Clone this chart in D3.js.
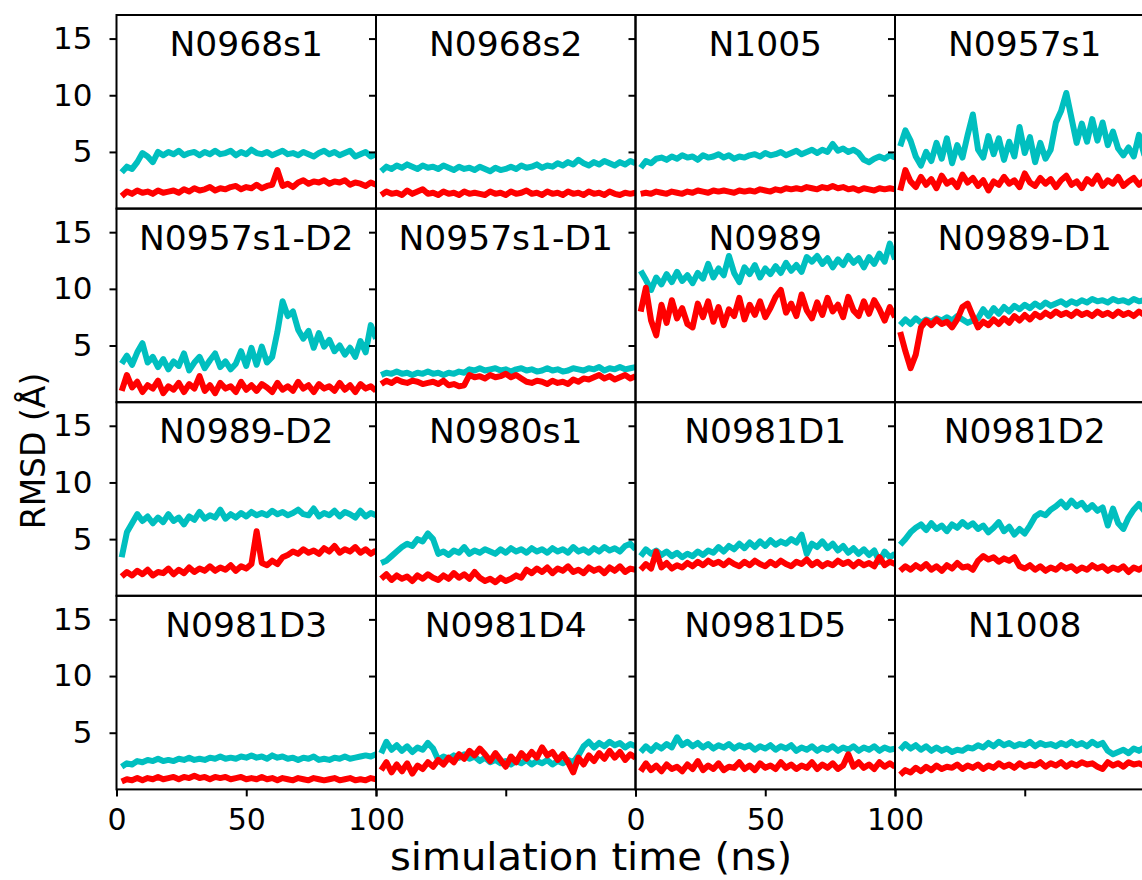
<!DOCTYPE html>
<html>
<head>
<meta charset="utf-8">
<script src="https://cdn.jsdelivr.net/npm/d3@7"></script>
<style>
  body { margin: 0; background: #fff; }
  svg { display: block; font-family: "DejaVu Sans", sans-serif; }
</style>
</head>
<body>
<svg id="chart"></svg>
<script>
const titles = ['N0968s1', 'N0968s2', 'N1005', 'N0957s1',
  'N0957s1-D2', 'N0957s1-D1', 'N0989', 'N0989-D1',
  'N0989-D2', 'N0980s1', 'N0981D1', 'N0981D2',
  'N0981D3', 'N0981D4', 'N0981D5', 'N1008']

// simulation time (ns)
const times = [2,4,6,8,10,12,14,16,18,20,22,24,26,28,30,32,34,36,38,40,
  42,44,46,48,50,52,54,56,58,60,62,64,66,68,70,72,74,76,78,80,
  82,84,86,88,90,92,94,96,98,100]

const yTicks = [5, 10, 15]
const xTicks = [0, 50, 100]

// cyan series (RMSD, Å)
const cyan1 = [3.2,3.7,3.5,4.1,4.9,4.6,4.1,5.0,4.7,5.0, 4.8,5.1,4.7,4.9,5.0,4.7,5.0,4.8,5.1,4.8, 4.9,5.1,4.7,5.0,4.8,5.2,4.9,4.8,5.0,4.7, 4.9,5.1,4.8,4.9,4.7,5.0,4.8,4.6,4.9,5.1, 4.8,5.0,4.7,4.9,5.1,4.6,4.8,5.0,4.6,4.8]
const cyan2 = [3.3,3.7,3.5,3.8,3.6,3.9,3.7,3.5,3.8,3.6, 3.7,3.5,3.8,3.6,3.4,3.7,3.5,3.6,3.4,3.7, 3.5,3.3,3.6,3.4,3.5,3.7,3.5,3.8,3.6,3.7, 3.9,3.6,3.8,3.7,4.0,3.8,4.1,3.9,4.3,4.0, 3.8,4.1,3.9,4.2,4.0,3.8,4.1,3.9,4.2,4.0]
const cyan3 = [3.6,4.2,4.0,4.4,4.5,4.3,4.6,4.4,4.7,4.5, 4.6,4.3,4.7,4.5,4.6,4.8,4.5,4.7,4.4,4.6, 4.5,4.7,4.8,4.6,4.9,4.7,4.8,5.0,4.7,4.9, 5.1,4.8,5.0,5.2,4.9,5.2,5.0,5.7,5.1,5.3, 5.0,5.2,4.9,4.3,4.1,4.4,4.6,4.4,4.7,4.5]
const cyan4 = [5.5,6.9,6.0,4.6,3.8,5.0,4.2,5.8,4.4,6.2, 4.0,5.6,4.5,6.5,8.3,5.2,4.5,6.4,4.8,6.2, 4.3,5.9,4.6,7.2,4.9,6.3,4.1,5.8,4.4,5.2, 7.6,8.6,10.2,8.0,5.8,7.5,5.9,7.9,6.0,7.6, 5.6,6.8,5.3,4.7,5.4,4.6,6.5,4.8,5.3,4.9]
const cyan5 = [3.4,4.1,3.3,4.4,5.2,3.5,4.0,3.1,3.8,2.9, 3.6,3.2,4.3,2.8,3.5,4.0,3.0,3.7,4.3,3.1, 3.6,2.9,3.4,4.5,3.2,4.8,3.3,4.9,3.5,4.0, 6.2,8.9,7.6,8.0,6.4,5.6,6.3,4.8,6.1,4.9, 5.5,4.5,5.0,4.2,4.8,4.0,5.4,4.4,6.8,5.6]
const cyan6 = [2.4,2.6,2.5,2.7,2.5,2.6,2.4,2.6,2.5,2.7, 2.5,2.6,2.4,2.6,2.5,2.7,2.6,2.9,2.8,3.0, 2.8,2.9,3.0,2.8,2.9,2.7,2.9,3.0,2.8,2.9, 2.7,2.8,3.0,2.8,2.9,2.7,2.8,3.0,2.9,2.8, 3.0,2.9,3.1,2.8,3.0,2.9,3.1,2.9,3.0,3.1]
const cyan7 = [11.6,10.8,9.9,11.0,10.4,11.3,10.6,11.5,10.7,11.2, 10.5,11.4,10.9,12.2,11.0,11.8,11.2,12.9,11.4,10.6, 11.9,11.3,12.1,11.0,11.8,11.3,12.0,11.4,12.3,11.6, 12.1,11.5,12.8,12.4,12.9,12.2,12.7,11.9,12.6,12.1, 12.9,12.3,12.7,11.9,12.8,12.2,13.1,12.4,14.0,12.6]
const cyan8 = [6.8,7.3,6.9,7.4,7.0,7.3,7.1,7.4,7.2,7.5, 7.2,7.6,7.3,7.0,7.2,7.4,8.2,7.6,8.3,7.8, 8.4,8.0,8.5,8.2,8.6,8.3,8.7,8.4,8.8,8.5, 8.7,8.9,8.6,8.9,8.7,9.0,8.8,9.1,8.9,9.0, 8.8,9.1,8.9,9.0,8.8,9.1,8.9,9.0,8.8,9.0]
const cyan9 = [3.4,5.6,6.4,7.2,6.6,7.0,6.4,6.9,6.5,7.2, 6.6,6.9,6.3,7.0,6.7,7.4,6.8,7.1,6.9,7.6, 6.8,7.2,6.9,7.3,7.0,7.4,7.1,7.3,7.1,7.5, 7.2,7.4,7.1,7.3,7.6,7.2,7.1,7.7,7.0,7.3, 7.1,7.5,7.0,7.4,7.2,6.9,7.5,7.0,7.3,7.1]
const cyan10 = [2.9,3.1,3.5,3.9,4.3,4.6,4.4,5.0,4.8,5.5, 5.0,3.7,3.9,3.6,4.0,3.8,4.3,3.7,4.0,3.8, 4.1,3.9,3.7,4.1,3.8,4.2,3.9,4.1,3.8,4.2, 3.9,4.1,3.8,4.2,3.9,4.1,3.8,4.3,3.9,4.1, 3.8,4.2,3.9,4.3,4.0,4.2,3.9,4.4,4.6,4.1]
const cyan11 = [3.5,4.1,3.7,4.0,3.6,3.9,3.5,3.8,3.4,3.7, 3.5,3.9,3.6,4.0,3.8,4.3,3.9,4.4,4.1,4.6, 4.2,4.7,4.3,4.8,4.4,4.9,4.5,4.8,4.6,5.0, 4.7,5.4,3.7,4.6,4.3,4.8,4.2,4.6,4.0,4.4, 3.8,4.2,3.7,4.1,3.6,4.0,3.0,3.9,3.4,3.7]
const cyan12 = [4.5,5.0,5.6,6.0,6.3,5.8,6.4,5.9,6.2,5.7, 6.3,6.0,6.5,6.1,6.4,5.9,6.2,5.6,6.0,6.5, 5.7,6.1,5.4,5.9,5.5,6.2,7.0,7.3,7.1,7.6, 7.9,8.3,7.8,8.4,7.9,8.2,7.6,8.0,7.5,7.8, 6.2,7.7,6.4,5.9,6.9,7.6,8.1,7.5,7.9,7.6]
const cyan13 = [2.0,2.3,2.2,2.5,2.4,2.6,2.5,2.7,2.5,2.6, 2.5,2.7,2.6,2.8,2.6,2.7,2.6,2.8,2.7,2.9, 2.7,2.8,2.7,2.9,2.8,3.0,2.8,2.9,2.7,3.0, 2.8,2.9,2.7,2.8,2.6,2.8,2.7,2.9,2.6,2.7, 2.6,2.8,2.7,2.9,2.7,2.8,2.9,3.0,2.9,3.1]
const cyan14 = [3.2,4.2,3.5,3.9,3.4,3.8,3.3,3.7,3.5,4.1, 3.6,2.6,2.9,2.7,3.0,2.8,3.1,2.7,2.9,2.5, 2.8,2.4,2.6,2.3,2.5,2.2,2.5,2.3,2.6,2.2, 2.5,2.3,2.6,2.2,2.5,2.3,2.6,2.4,3.0,3.8, 4.2,3.7,4.1,3.8,4.2,3.9,4.1,3.7,4.0,3.8]
const cyan15 = [3.3,3.8,3.4,3.9,3.6,4.0,3.7,4.6,3.9,4.2, 3.8,4.1,3.7,4.0,3.6,3.9,3.7,4.0,3.6,3.9, 3.7,3.9,3.5,3.8,3.6,3.9,3.5,3.8,3.6,3.9, 3.4,3.7,3.5,3.8,3.4,3.7,3.5,3.8,3.4,3.7, 3.5,3.8,3.4,3.7,3.5,3.8,3.4,3.7,3.5,3.6]
const cyan16 = [3.5,4.0,3.6,3.9,3.5,3.8,3.4,3.7,3.4,3.6, 3.3,3.5,3.4,3.7,3.6,3.9,3.7,4.1,3.8,4.2, 3.9,4.1,3.8,4.0,3.9,4.2,3.8,4.1,3.9,4.0, 3.8,4.1,3.9,4.2,3.9,4.1,3.8,4.2,3.9,4.1, 3.4,3.1,3.3,3.5,3.2,3.6,3.4,3.7,3.3,3.6]

// red series (RMSD, Å)
const red1 = [1.1,1.5,1.3,1.6,1.4,1.5,1.3,1.6,1.4,1.5, 1.6,1.4,1.7,1.5,1.8,1.6,1.7,1.9,1.6,1.8, 1.7,1.9,2.0,1.7,1.9,1.8,2.1,1.8,2.0,2.1, 3.4,2.0,2.2,1.9,2.3,2.5,2.2,2.4,2.3,2.5, 2.2,2.4,2.3,2.5,2.1,2.3,2.2,2.0,2.3,2.1]
const red2 = [1.2,1.5,1.3,1.4,1.2,1.6,1.3,1.5,1.7,1.3, 1.4,1.2,1.5,1.3,1.4,1.2,1.5,1.3,1.4,1.3, 1.2,1.5,1.3,1.4,1.2,1.5,1.3,1.4,1.6,1.3, 1.4,1.2,1.5,1.3,1.4,1.2,1.5,1.3,1.4,1.2, 1.5,1.3,1.4,1.2,1.5,1.3,1.2,1.4,1.3,1.4]
const red3 = [1.3,1.4,1.3,1.5,1.4,1.3,1.5,1.4,1.3,1.5, 1.4,1.6,1.5,1.4,1.6,1.5,1.6,1.5,1.4,1.6, 1.5,1.6,1.5,1.7,1.6,1.5,1.7,1.6,1.8,1.7, 1.8,1.7,1.9,1.8,1.7,1.9,1.8,2.0,1.8,1.9, 1.7,1.8,1.6,1.8,1.7,1.6,1.8,1.7,1.8,1.7]
const red4 = [1.6,3.4,2.4,1.9,2.8,2.1,2.6,1.8,2.9,2.2, 2.5,1.9,3.0,2.3,2.7,2.0,2.5,1.6,2.4,2.1, 2.8,2.2,2.5,1.9,3.1,2.3,2.0,2.7,2.2,2.6, 1.9,2.5,2.9,2.1,2.4,1.8,2.6,2.2,2.9,2.0, 2.5,2.2,2.8,2.0,2.4,2.7,2.1,2.5,2.3,2.6]
const red5 = [1.0,2.4,1.3,1.8,0.9,1.5,1.2,1.9,0.8,1.4, 1.1,1.7,0.9,1.6,1.2,2.3,1.0,1.5,0.8,1.7, 1.2,1.4,0.9,1.8,1.1,1.5,1.0,1.6,1.3,0.9, 1.7,1.1,1.4,1.0,1.8,1.2,1.5,0.9,1.6,1.2, 1.4,1.0,1.7,1.1,1.5,0.9,1.6,1.2,1.4,1.0]
const red6 = [1.6,1.9,1.7,2.0,1.8,1.7,1.9,1.8,1.6,1.7, 1.8,1.6,1.9,1.5,1.6,1.4,1.5,2.4,2.2,2.3, 2.1,2.4,2.2,2.3,2.5,2.2,2.4,2.1,1.8,1.7, 1.9,1.8,1.6,1.9,1.7,1.8,1.6,2.0,1.8,2.1, 2.0,2.2,2.4,2.1,2.3,2.0,2.2,2.4,2.1,2.3]
const red7 = [8.0,10.1,7.2,5.9,8.6,7.0,9.0,7.4,8.3,6.9, 6.6,8.7,7.5,8.9,7.1,8.4,6.8,8.2,7.6,9.2, 7.3,8.6,7.7,8.9,7.5,8.3,9.3,9.9,7.9,8.7, 7.6,9.5,8.1,7.4,8.8,7.7,9.2,8.0,8.6,7.5, 9.3,8.1,7.6,8.9,7.8,9.0,8.2,7.2,8.4,7.5]
const red8 = [6.2,4.5,3.0,4.2,6.6,7.2,6.8,7.3,6.9,7.1, 6.6,7.3,8.4,8.7,7.6,6.6,7.1,6.8,7.3,6.9, 7.4,7.0,7.6,7.2,7.7,7.3,7.8,7.5,7.9,7.6, 8.0,7.7,7.9,7.6,8.0,7.7,7.9,7.6,8.0,7.7, 7.9,7.6,8.0,7.7,7.9,7.6,8.0,7.7,7.9,7.7]
const red9 = [1.7,2.1,1.8,2.2,1.9,2.3,1.8,2.1,2.0,2.4, 1.9,2.3,2.0,2.5,2.1,2.4,2.2,2.6,2.2,2.5, 2.3,2.7,2.2,2.6,2.4,2.8,5.7,2.9,2.7,3.1, 2.8,3.4,3.6,3.9,3.7,4.1,3.8,4.0,3.7,4.2, 3.9,4.4,3.8,4.1,3.9,4.3,3.8,4.1,3.7,4.0]
const red10 = [1.5,1.9,1.4,1.8,1.5,1.7,1.3,1.8,1.5,1.9, 1.6,1.4,1.8,1.5,2.0,1.6,1.9,1.5,2.1,1.6, 1.3,1.5,1.2,1.6,1.3,1.5,1.8,1.6,2.3,2.0, 2.4,2.1,2.5,2.0,2.4,2.2,2.6,2.1,2.3,2.0, 2.5,2.2,2.4,2.0,2.5,2.2,2.6,2.1,2.4,2.3]
const red11 = [2.3,2.8,2.4,3.9,2.5,2.9,2.4,2.7,2.5,2.9, 2.6,3.0,2.7,3.1,2.8,3.0,2.7,3.1,2.8,2.6, 3.0,2.7,3.1,2.8,2.6,3.0,2.7,3.1,2.8,2.6, 3.0,2.8,3.2,2.7,3.0,2.6,2.9,2.7,3.1,2.8, 3.0,2.6,3.0,2.7,2.9,2.6,3.4,2.7,3.0,2.8]
const red12 = [2.2,2.6,2.3,2.7,2.4,2.8,2.3,2.6,2.2,2.7, 2.4,2.9,2.5,2.6,2.3,3.1,3.5,3.2,3.4,3.0, 3.3,3.1,3.4,2.6,2.4,2.7,2.3,2.6,2.2,2.5, 2.3,2.7,2.4,2.6,2.2,2.5,2.3,2.7,2.4,2.6, 2.2,2.5,2.3,2.6,2.1,2.5,2.3,2.6,2.4,2.5]
const red13 = [0.7,0.9,0.8,1.0,0.8,1.0,0.9,1.1,0.9,1.0, 1.1,0.9,1.1,1.0,1.2,1.0,1.1,0.9,1.1,1.0, 1.1,0.9,1.0,1.1,0.9,1.0,0.9,1.1,0.9,1.0, 0.8,1.0,0.9,0.8,1.0,0.9,0.8,1.0,0.9,0.8, 0.9,1.0,0.8,0.9,1.0,0.8,0.9,0.8,1.0,0.9]
const red14 = [1.7,2.4,1.5,2.2,1.6,2.3,1.4,2.1,1.8,2.4, 2.0,2.6,2.2,2.8,2.4,3.1,2.7,3.4,3.0,3.6, 3.1,2.5,3.2,2.6,2.0,2.9,2.4,3.2,2.7,3.3, 2.8,3.7,3.0,3.3,2.6,3.1,2.4,1.5,2.8,2.2, 3.0,2.5,3.2,2.7,3.4,2.8,3.3,2.6,3.1,2.8]
const red15 = [1.6,2.3,1.7,2.1,1.6,2.2,1.8,2.0,1.6,2.2, 1.8,2.5,1.7,2.1,1.8,2.3,1.7,2.0,1.9,2.4, 1.8,2.1,1.7,2.3,1.9,2.1,1.8,2.4,1.9,2.2, 1.8,2.1,1.9,2.4,1.8,2.2,1.9,2.3,1.8,2.1, 3.1,2.0,2.4,1.9,2.2,1.8,2.4,2.0,2.3,2.0]
const red16 = [1.3,1.7,1.5,1.9,1.6,2.0,1.7,2.1,1.8,2.0, 1.9,2.2,1.8,2.1,1.9,2.2,1.8,2.1,1.9,2.3, 2.0,2.2,1.9,2.3,2.0,2.2,2.1,2.4,2.0,2.3, 2.1,2.4,2.0,2.3,2.1,2.4,2.2,2.3,2.0,1.8, 2.4,2.1,2.3,2.0,2.4,2.2,2.3,2.1,2.4,2.2]

const cyanSeries = [cyan1, cyan2, cyan3, cyan4, cyan5, cyan6, cyan7, cyan8,
  cyan9, cyan10, cyan11, cyan12, cyan13, cyan14, cyan15, cyan16]
const redSeries = [red1, red2, red3, red4, red5, red6, red7, red8,
  red9, red10, red11, red12, red13, red14, red15, red16]

const w = 1142
const h = 880
const padLeft = 116.5
const padTop = 15
const pw = 259.5
const ph = 193.6

const svg = d3.select('#chart')
  .attr('width', w)
  .attr('height', h)

const xScale = d3.scaleLinear().domain([0, 100]).range([0, pw])
const yScale = d3.scaleLinear().domain([0, 17.08]).range([ph, 0])

const line = d3.line()
  .x((d, i) => xScale(times[i]))
  .y(d => yScale(d))

titles.forEach((title, k) => {
  const col = k % 4
  const row = Math.floor(k / 4)
  const g = svg.append('g')
    .attr('transform', `translate(${padLeft + col * pw},${padTop + row * ph})`)

  g.append('clipPath').attr('id', 'clip' + k)
    .append('rect').attr('width', pw).attr('height', ph)

  // thick strokes stand in for the dense, noisy trajectories
  const plot = g.append('g').attr('clip-path', `url(#clip${k})`)
  plot.append('path')
    .datum(cyanSeries[k])
    .attr('d', line)
    .attr('fill', 'none')
    .attr('stroke', '#00bfbf')
    .attr('stroke-width', 6)
    .attr('stroke-linejoin', 'round')
  plot.append('path')
    .datum(redSeries[k])
    .attr('d', line)
    .attr('fill', 'none')
    .attr('stroke', '#ff0000')
    .attr('stroke-width', 6)
    .attr('stroke-linejoin', 'round')

  // y axis, labels only on the first column
  const yAxis = d3.axisLeft(yScale).tickValues(yTicks).tickSize(7).tickPadding(17)
  const ya = g.append('g').call(yAxis)
  ya.select('.domain').remove()
  ya.selectAll('line').attr('stroke-width', 2)
  if (col > 0) ya.selectAll('text').remove()
  ya.selectAll('text').attr('font-size', 31).attr('fill', '#000')
    .attr('font-family', '"DejaVu Sans", sans-serif')

  // x axis only on the bottom row, labels on columns 1 and 3
  if (row === 3) {
    const xAxis = d3.axisBottom(xScale).tickValues(xTicks).tickSize(7).tickPadding(12)
    const xa = g.append('g').attr('transform', `translate(0,${ph})`).call(xAxis)
    xa.select('.domain').remove()
    xa.selectAll('line').attr('stroke-width', 2)
    if (col % 2 === 1) xa.selectAll('text').remove()
    xa.selectAll('text').attr('font-size', 30).attr('fill', '#000')
      .attr('font-family', '"DejaVu Sans", sans-serif')
  }

  g.append('rect')
    .attr('width', pw)
    .attr('height', ph)
    .attr('fill', 'none')
    .attr('stroke', '#000')
    .attr('stroke-width', 2)

  g.append('text')
    .attr('x', pw / 2)
    .attr('y', 41)
    .attr('text-anchor', 'middle')
    .attr('font-size', 34.5)
    .text(title)
})

svg.append('text')
  .attr('x', 591)
  .attr('y', 870)
  .attr('text-anchor', 'middle')
  .attr('font-size', 37)
  .attr('textLength', 402)
  .attr('lengthAdjust', 'spacingAndGlyphs')
  .text('simulation time (ns)')

svg.append('text')
  .attr('transform', 'translate(45,451) rotate(-90)')
  .attr('text-anchor', 'middle')
  .attr('font-size', 33)
  .text('RMSD (Å)')
</script>
</body>
</html>
